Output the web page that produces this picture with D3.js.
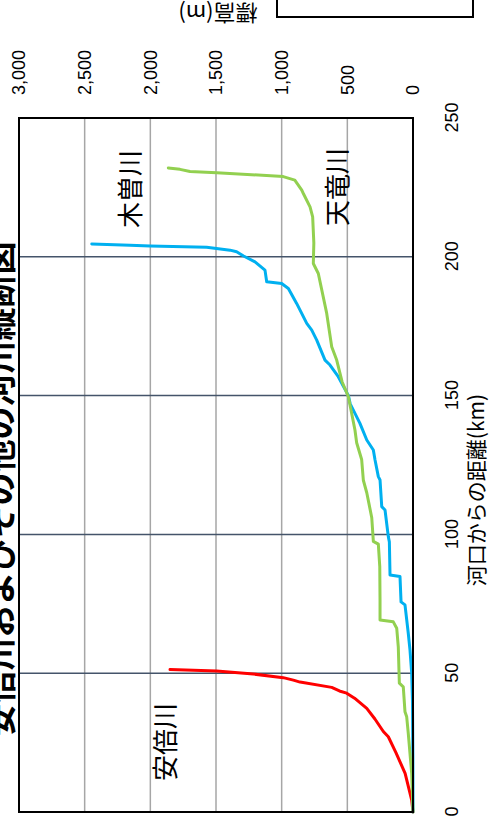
<!DOCTYPE html>
<html>
<head>
<meta charset="utf-8">
<script src="https://cdn.jsdelivr.net/npm/d3@7"></script>
<style>
html,body{margin:0;padding:0;background:#fff;}
svg{display:block;}
</style>
</head>
<body>
<svg id="chart" width="491" height="824"></svg>
<script>
// ---- data (distance km, elevation m) ----
const distTicks = [0, 50, 100, 150, 200, 250];
const elevTicks = [0, 500, 1000, 1500, 2000, 2500, 3000];

const abeDist = [0, 4.3, 6.8, 13.9, 21.4, 27.1, 29.0, 33.5, 37.3, 41.0, 42.8, 43.6, 44.9, 46.8, 47.5, 48.4, 49.7, 50.8, 51.3];
const abeElev = [0, 10, 23, 60, 130, 188, 226, 290, 352, 445, 505, 560, 619, 860, 911, 988, 1216, 1495, 1850];

const kisoDist = [0, 20, 40, 50, 58.4, 64.4, 74.6, 75.7, 84.8, 85.4, 97.3, 99.2, 108.8, 110, 119.6, 120.8, 126.8, 130.4, 134, 140, 147, 150, 156.8, 161, 162.8, 170, 173.6, 176, 180.8, 183.2, 188.6, 190.4, 191, 195.2, 198.2, 200.3, 201.8, 202.4, 203.4, 203.9, 204.2, 204.6];
const kisoElev = [0, 1, 4, 10, 23, 36, 61, 91, 99, 175, 180, 188, 213, 238, 251, 264, 289, 302, 352, 404, 478, 492, 569, 632, 670, 733, 771, 809, 860, 886, 949, 1000, 1114, 1127, 1203, 1290, 1343, 1393, 1571, 2002, 2155, 2446];

const tenryuDist = [0, 13.9, 28.3, 34.3, 36.1, 45.1, 46.4, 59.5, 66.2, 68.5, 69.2, 76.4, 88.4, 96.5, 97.5, 106, 111, 115, 119.5, 127, 133, 137.6, 149.6, 155, 162.8, 167.6, 179.6, 194, 197.6, 205, 214.4, 218, 222.8, 224, 227.6, 228.9, 230.3, 230.7, 231.5, 232];
const tenryuElev = [0, 10, 36, 48, 61, 74, 104, 112, 124, 150, 251, 251, 253, 264, 302, 314, 335, 352, 378, 391, 429, 442, 492, 540, 581, 619, 657, 721, 759, 755, 764, 784, 835, 847, 900, 988, 1495, 1698, 1774, 1863];

const seriesNames = ["安倍川", "木曽川", "天竜川"];
const seriesColors = ["#ff0000", "#00b0f0", "#92d050"];

const titleText = "安倍川およびその他の河川縦断図";
const xTitle = "河口からの距離(km)";
const yTitle = "標高(m)";

// ---- layout in the chart's own (unrotated) frame ----
const W = 824, H = 491;
const svg = d3.select("#chart");
const g = svg.append("g").attr("transform", `translate(0,${W}) rotate(-90)`);

const x = d3.scaleLinear().domain([0, 250]).range([12, 706]);
const y = d3.scaleLinear().domain([0, 3000]).range([413, 19]);

// gridlines
g.append("g").selectAll("line").data(elevTicks.slice(1, -1)).join("line")
  .attr("x1", x(0)).attr("x2", x(250))
  .attr("y1", d => y(d)).attr("y2", d => y(d))
  .attr("stroke", "#a6a6a6").attr("stroke-width", 1.5);
g.append("g").selectAll("line").data(distTicks.slice(1, -1)).join("line")
  .attr("x1", d => x(d)).attr("x2", d => x(d))
  .attr("y1", y(3000)).attr("y2", y(0))
  .attr("stroke", "#44546a").attr("stroke-width", 1.5);

// series
const series = [
  {dist: abeDist, elev: abeElev},
  {dist: kisoDist, elev: kisoElev},
  {dist: tenryuDist, elev: tenryuElev}
];
const line = d3.line().x(d => x(d[0])).y(d => y(d[1]));
series.forEach((s, i) => {
  const pts = s.dist.map((d, k) => [d, s.elev[k]]);
  g.append("path").datum(pts)
    .attr("d", line)
    .attr("fill", "none")
    .attr("stroke", seriesColors[i])
    .attr("stroke-width", 3)
    .attr("stroke-linejoin", "round")
    .attr("stroke-linecap", "round");
});

// plot border
g.append("rect")
  .attr("x", x(0)).attr("y", y(3000))
  .attr("width", x(250) - x(0)).attr("height", y(0) - y(3000))
  .attr("fill", "none").attr("stroke", "#000").attr("stroke-width", 2);

// axes
const tickFont = "'Liberation Sans', Arial, sans-serif";
const xAxis = g.append("g").attr("transform", `translate(0,${y(0)})`)
  .call(d3.axisBottom(x).tickValues(distTicks).tickSize(0).tickPadding(32).tickFormat(d3.format("d")));
const yAxis = g.append("g").attr("transform", `translate(${x(250)},0)`)
  .call(d3.axisRight(y).tickValues(elevTicks).tickSize(0).tickPadding(23).tickFormat(d3.format(",")));
[xAxis, yAxis].forEach(a => {
  a.select(".domain").remove();
  a.selectAll("text").attr("font-family", tickFont).attr("font-size", 18).attr("fill", "#000");
});

const cjk = "'Noto Sans CJK JP', 'Noto Sans', sans-serif";

// series labels
const labelPos = [[82, 163], [635, 128], [637, 335]];
seriesNames.forEach((n, i) => {
  g.append("text").attr("x", labelPos[i][0]).attr("y", labelPos[i][1])
    .attr("text-anchor", "middle").attr("dominant-baseline", "central")
    .attr("font-family", cjk).attr("font-size", 26).attr("fill", "#000")
    .text(n);
});

// axis titles
g.append("text").attr("x", 334).attr("y", 475)
  .attr("text-anchor", "middle").attr("dominant-baseline", "central")
  .attr("font-family", cjk).attr("font-size", 21).attr("fill", "#000")
  .text(xTitle);
g.append("text")
  .attr("transform", `translate(809,218) rotate(-90)`)
  .attr("text-anchor", "middle").attr("dominant-baseline", "central")
  .attr("font-family", cjk).attr("font-size", 22).attr("fill", "#000")
  .text(yTitle);

// chart title (cut by top edge of original frame)
g.append("text").attr("x", 335).attr("y", 12)
  .attr("text-anchor", "middle")
  .attr("font-family", cjk).attr("font-weight", "bold").attr("font-size", 33).attr("fill", "#000")
  .text(titleText);

// box at the corner
g.append("rect").attr("x", 807).attr("y", 277).attr("width", 40).attr("height", 196)
  .attr("fill", "#fff").attr("stroke", "#000").attr("stroke-width", 2);
</script>
</body>
</html>
